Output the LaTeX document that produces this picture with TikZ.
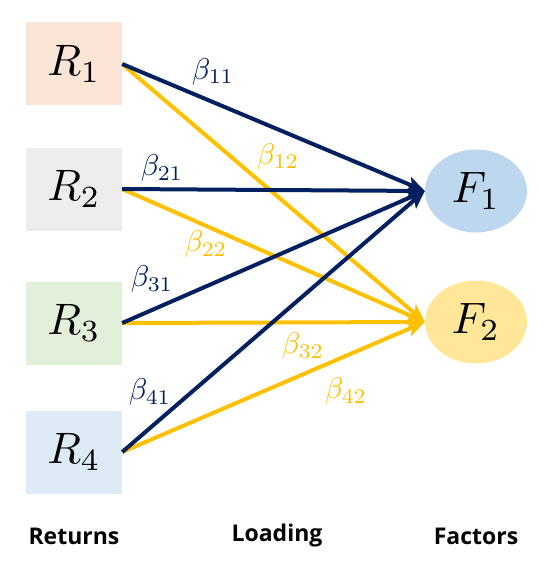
\documentclass[tikz,border=0pt]{standalone}
\usepackage{fontspec}
\newfontfamily\labfont{Open Sans}
\usetikzlibrary{shapes.geometric,arrows.meta}
\definecolor{navy}{HTML}{002060}
\definecolor{gold}{HTML}{FFC000}
\definecolor{cR1}{HTML}{FBE5D6}
\definecolor{cR2}{HTML}{EDEDED}
\definecolor{cR3}{HTML}{E2F0D9}
\definecolor{cR4}{HTML}{DEEBF7}
\definecolor{cF1}{HTML}{BDD7EE}
\definecolor{cF2}{HTML}{FFE699}
\newcommand\bigmathtxt[1]{\scalebox{4.4}{$#1$}}
\newcommand\betalab[1]{\scalebox{3.0}{$\beta_{#1}$}}
\tikzset{
  retbox/.style={rectangle, minimum width=96pt, minimum height=83pt, inner sep=0pt},
  facnode/.style={ellipse, minimum width=102pt, minimum height=83pt, inner sep=0pt},
  lnk/.style={line width=4pt, -{Stealth[length=18pt,width=15pt,inset=4pt]}},
  blue link/.style={lnk, draw=navy},
  gold link/.style={lnk, draw=gold},
  blab/.style={text=navy, inner sep=0pt},
  glab/.style={text=gold, inner sep=0pt},
  captext/.style={font=\labfont\bfseries\fontsize{23}{26}\selectfont, inner sep=0pt}
}
\begin{document}
\begin{tikzpicture}[x=1pt,y=-1pt]
\useasboundingbox (0,0) rectangle (550,567);
\node[retbox, fill=cR1] (R1) at (74,64) {\bigmathtxt{R_1}};
\node[retbox, fill=cR2] (R2) at (74,189) {\bigmathtxt{R_2}};
\node[retbox, fill=cR3] (R3) at (74,323) {\bigmathtxt{R_3}};
\node[retbox, fill=cR4] (R4) at (74,452) {\bigmathtxt{R_4}};
\node[facnode, fill=cF1] (F1) at (476,191) {\bigmathtxt{F_1}};
\node[facnode, fill=cF2] (F2) at (476,322) {\bigmathtxt{F_2}};

\draw[gold link] (R1.east) -- (F2.west);
\draw[gold link] (R2.east) -- (F2.west);
\draw[gold link] (R3.east) -- (F2.west);
\draw[gold link] (R4.east) -- (F2.west);
\draw[blue link] (R1.east) -- (F1.west);
\draw[blue link] (R2.east) -- (F1.west);
\draw[blue link] (R3.east) -- (F1.west);
\draw[blue link] (R4.east) -- (F1.west);

\node[blab] (b11) at (213,72) {\betalab{11}};
\node[blab] (b21) at (162,168) {\betalab{21}};
\node[glab] (b12) at (278,157) {\betalab{12}};
\node[glab] (b22) at (206,244) {\betalab{22}};
\node[blab] (b31) at (152,279) {\betalab{31}};
\node[glab] (b32) at (303,346) {\betalab{32}};
\node[blab] (b41) at (150,392) {\betalab{41}};
\node[glab] (b42) at (346,391) {\betalab{42}};

\node[captext] (ret) at (74,536) {Returns};
\node[captext] (load) at (277,536) {Loading};
\node[captext] (fac) at (476,536) {Factors};
\end{tikzpicture}
\end{document}
